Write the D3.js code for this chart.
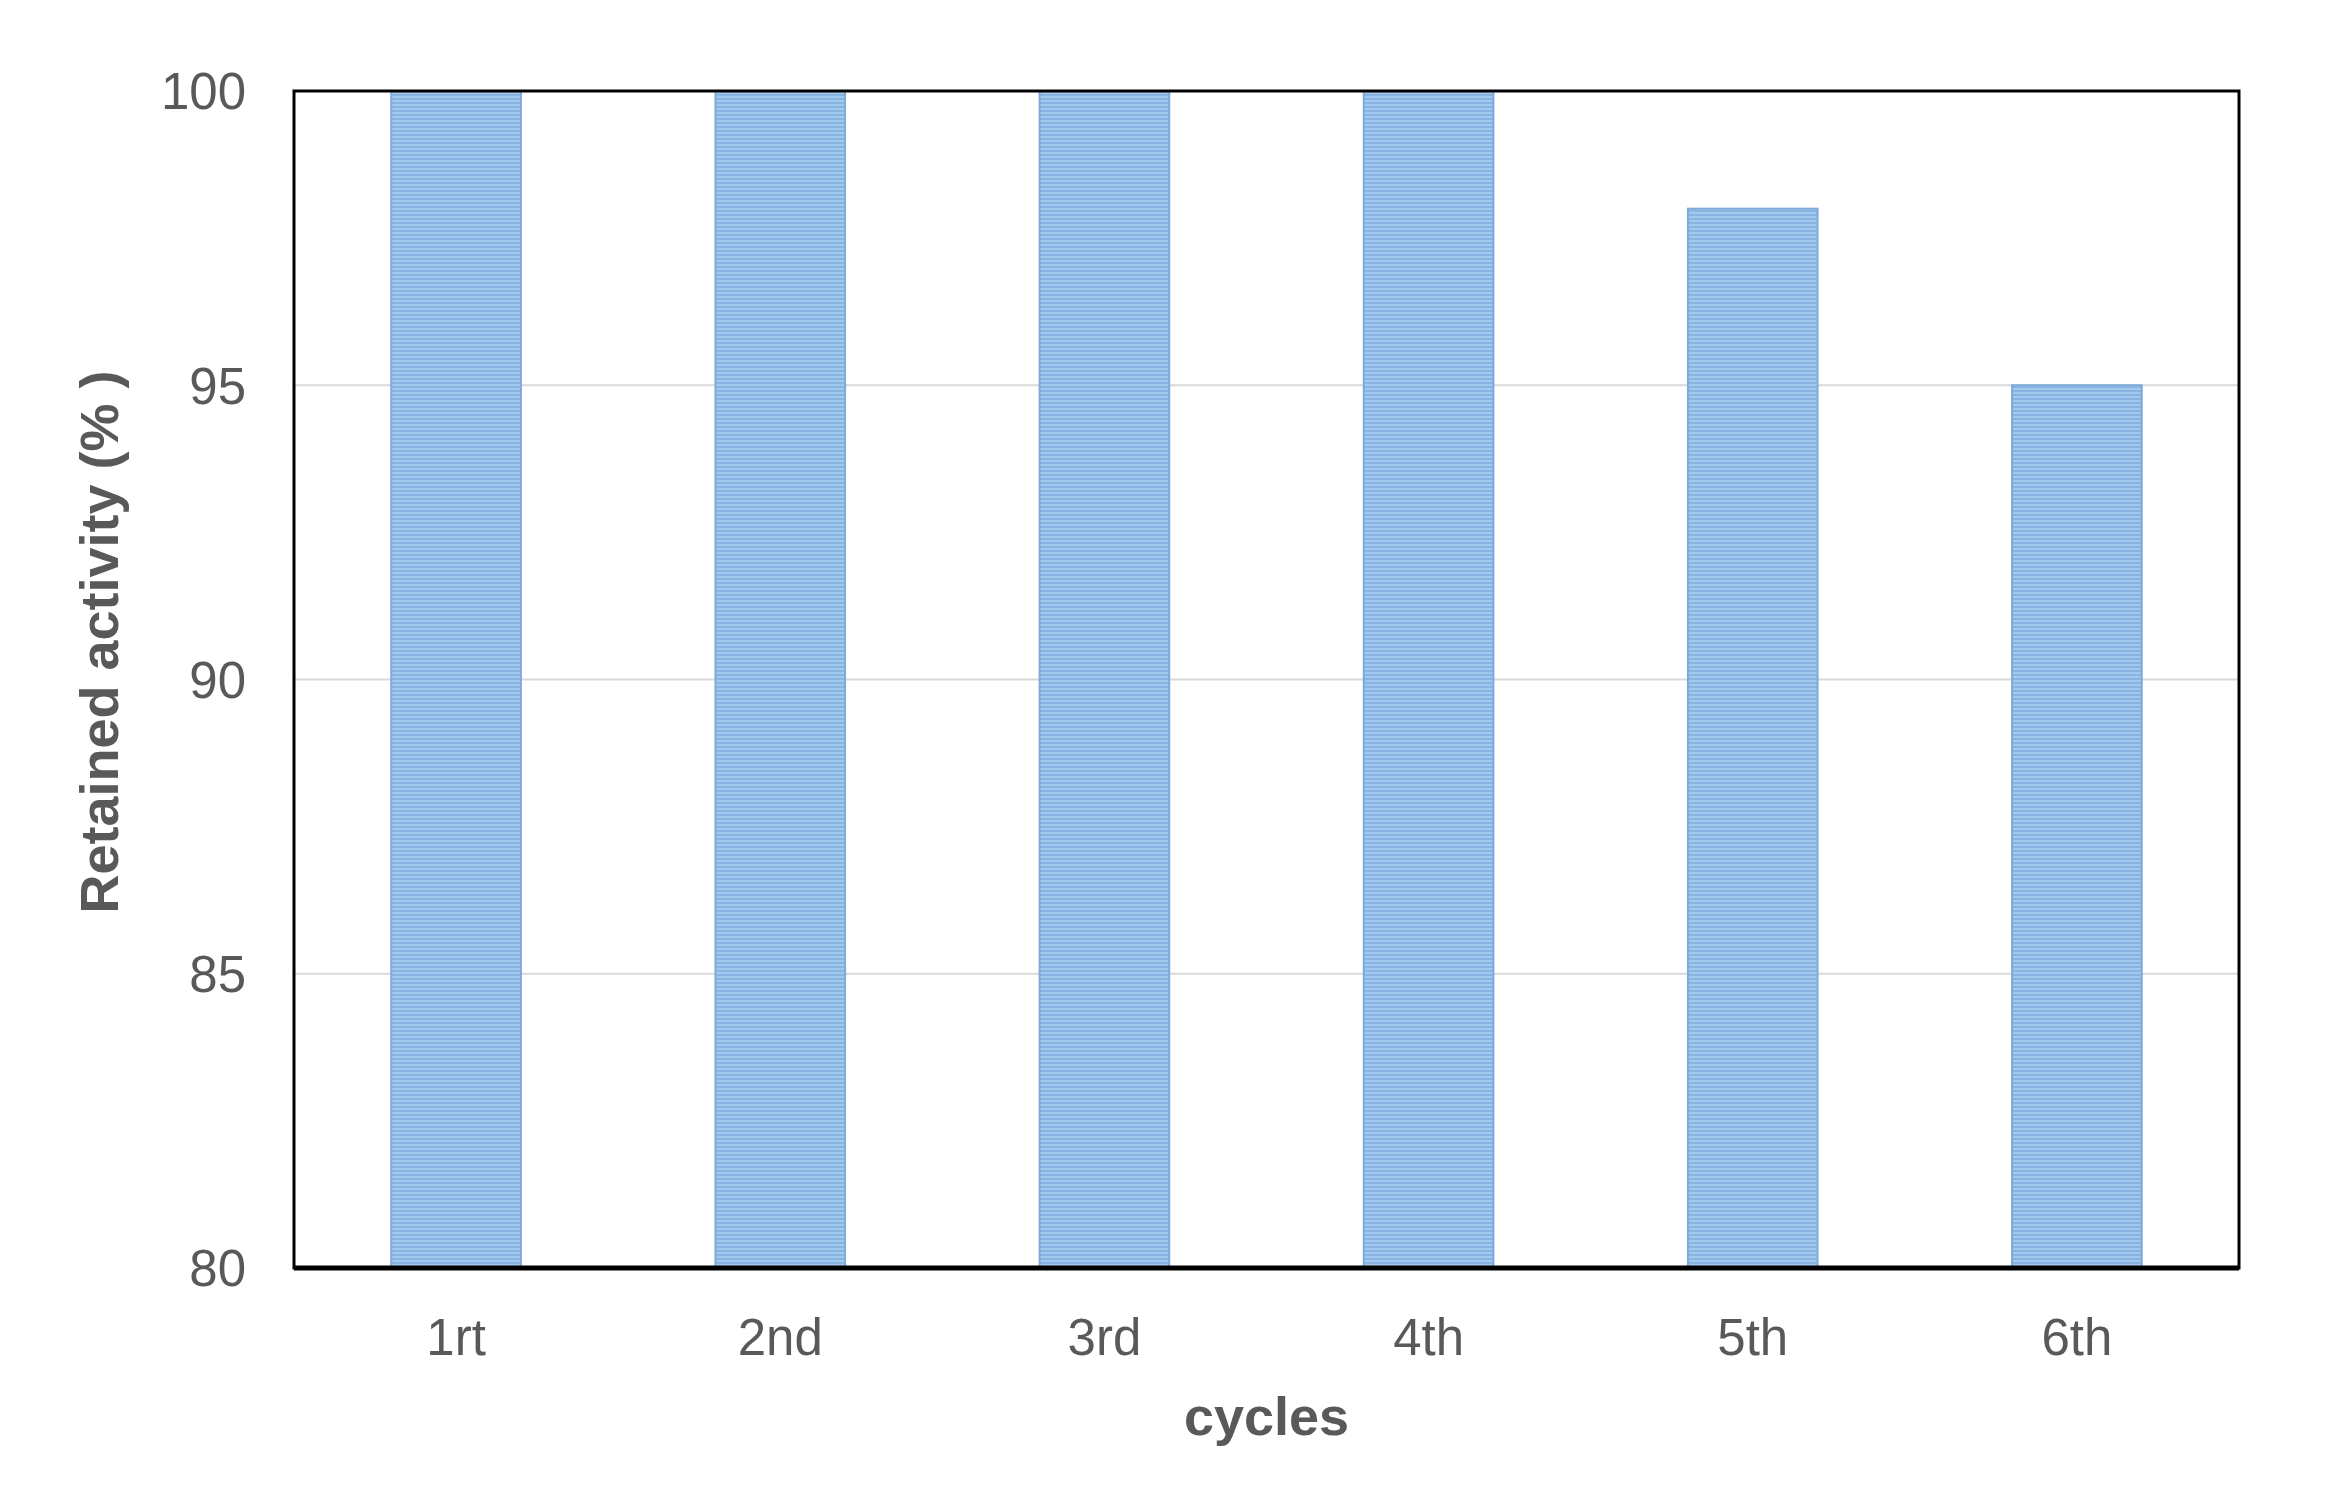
<!DOCTYPE html>
<html lang="en">
<head>
    <meta charset="UTF-8">
    <title>Retained activity</title>
    <script src="https://d3js.org/d3.v7.min.js"></script>
    <style>
        body {
            margin: 0;
            padding: 0;
            background: #ffffff;
            font-family: 'Liberation Sans', Arial, sans-serif;
        }
        .tick-label {
            font-size: 51px;
            fill: #595959;
        }
        .axis-title {
            font-size: 54px;
            font-weight: bold;
            fill: #595959;
        }
        .grid line {
            stroke: #d9d9d9;
            stroke-width: 2;
        }
    </style>
</head>
<body>
    <div id="chart"></div>

    <script>
        const cycles = ["1rt", "2nd", "3rd", "4th", "5th", "6th"];
        const retained = [100, 100, 100, 100, 98, 95];
        const yTicks = [80, 85, 90, 95, 100];

        const width = 2340, height = 1508;
        const margin = { top: 91, right: 101, bottom: 240, left: 294 };

        const svg = d3.select("#chart")
            .append("svg")
            .attr("width", width)
            .attr("height", height);

        // striped fill like the original bars
        const defs = svg.append("defs");
        const pat = defs.append("pattern")
            .attr("id", "stripes")
            .attr("patternUnits", "userSpaceOnUse")
            .attr("width", 8)
            .attr("height", 4);
        pat.append("rect").attr("width", 8).attr("height", 4).attr("fill", "#a4c8ec");
        pat.append("rect").attr("y", 2).attr("width", 8).attr("height", 2).attr("fill", "#88b4e2");

        const x = d3.scaleBand()
            .domain(cycles)
            .range([margin.left, width - margin.right])
            .paddingInner(0.6)
            .paddingOuter(0.3);

        const y = d3.scaleLinear()
            .domain([80, 100])
            .range([height - margin.bottom, margin.top]);

        // gridlines
        svg.append("g")
            .attr("class", "grid")
            .selectAll("line")
            .data(yTicks.slice(1, -1))
            .join("line")
            .attr("x1", margin.left)
            .attr("x2", width - margin.right)
            .attr("y1", d => y(d))
            .attr("y2", d => y(d));

        // bars
        const data = cycles.map((c, i) => ({ cycle: c, value: retained[i] }));

        svg.append("g")
            .selectAll("rect")
            .data(data)
            .join("rect")
            .attr("x", d => x(d.cycle))
            .attr("y", d => y(d.value))
            .attr("width", x.bandwidth())
            .attr("height", d => y(80) - y(d.value))
            .attr("fill", "url(#stripes)")
            .attr("stroke", "#7eaadb")
            .attr("stroke-width", 2);

        // plot frame
        svg.append("rect")
            .attr("x", margin.left)
            .attr("y", margin.top)
            .attr("width", width - margin.left - margin.right)
            .attr("height", height - margin.top - margin.bottom)
            .attr("fill", "none")
            .attr("stroke", "#000")
            .attr("stroke-width", 3);

        svg.append("line")
            .attr("x1", margin.left)
            .attr("x2", width - margin.right)
            .attr("y1", y(80))
            .attr("y2", y(80))
            .attr("stroke", "#000")
            .attr("stroke-width", 5);

        // y axis labels
        svg.append("g")
            .selectAll("text")
            .data(yTicks)
            .join("text")
            .attr("class", "tick-label")
            .attr("x", margin.left - 48)
            .attr("y", d => y(d))
            .attr("dy", "0.36em")
            .attr("text-anchor", "end")
            .text(d => d);

        // x axis labels
        svg.append("g")
            .selectAll("text")
            .data(cycles)
            .join("text")
            .attr("class", "tick-label")
            .attr("x", d => x(d) + x.bandwidth() / 2)
            .attr("y", 1355)
            .attr("text-anchor", "middle")
            .text(d => d);

        // axis titles
        svg.append("text")
            .attr("class", "axis-title")
            .attr("x", (margin.left + width - margin.right) / 2)
            .attr("y", 1435)
            .attr("text-anchor", "middle")
            .text("cycles");

        svg.append("text")
            .attr("class", "axis-title")
            .attr("transform", "translate(118,642) rotate(-90)")
            .attr("text-anchor", "middle")
            .text("Retained activity (% )");
    </script>
</body>
</html>
